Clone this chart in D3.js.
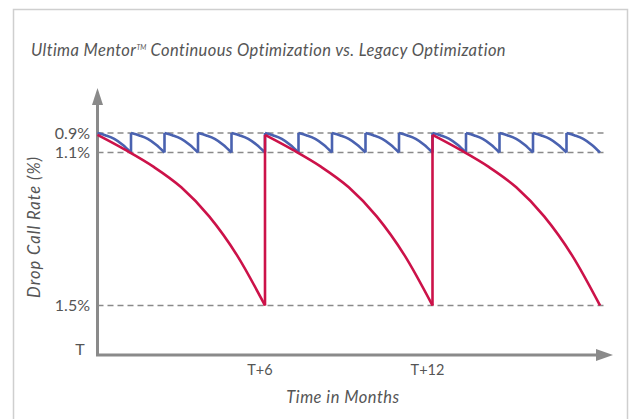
<!DOCTYPE html>
<html>
<head>
<meta charset="utf-8">
<script src="https://cdn.jsdelivr.net/npm/d3@7"></script>
<style>
  body { margin: 0; background: #fff; }
  svg text { font-family: Lato, 'Noto Sans', sans-serif; fill: #555; }
</style>
</head>
<body>
<svg id="chart" width="632" height="419"></svg>
<script>
const titleMain = 'Ultima Mentor';
const titleMark = 'TM';
const titleRest = ' Continuous Optimization vs. Legacy Optimization';
const yLevels = [0.9, 1.1, 1.5];
const yLevelLabels = ['0.9%', '1.1%', '1.5%'];
const xTickMonths = [6, 12];
const xTickLabels = ['T+6', 'T+12'];

// legacy optimization: one pass every 6 months, then the rate drifts down
const legacyResets = [0, 6, 12];
const legacyOffsets = [0, 1, 2, 3, 4, 5, 6];
const legacyValues = [0.92, 1.074, 1.137, 1.191, 1.267, 1.369, 1.5];

// continuous optimization: small correction every 1.2 months
const mentorResets = [0, 1.2, 2.4, 3.6, 4.8, 6, 7.2, 8.4, 9.6, 10.8, 12, 13.2, 14.4, 15.6, 16.8];
const mentorOffsets = [0, 0.3, 0.6, 0.9, 1.2];
const mentorValues = [0.9, 0.925, 0.96, 1.02, 1.1];

const svg = d3.select('#chart');
const x = d3.scaleLinear().domain([0, 18]).range([97.5, 600]);
const y = d3.scaleLinear().domain(yLevels).range([133, 152.5, 305.5]);
const axisY = 355;
const grey = '#8a8a8a';

svg.append('rect').attr('x', 13.5).attr('y', 9.5).attr('width', 614).attr('height', 430)
  .attr('fill', 'none').attr('stroke', '#cfcfcf').attr('stroke-width', 1.5);

const title = svg.append('text').attr('x', 31).attr('y', 56).attr('font-size', 16.5)
  .attr('font-style', 'italic').attr('letter-spacing', 0.4);
title.append('tspan').text(titleMain);
title.append('tspan').attr('font-size', 7).attr('dy', -6).attr('letter-spacing', 0).text(titleMark);
title.append('tspan').attr('dy', 6).text(titleRest);

// dashed reference levels
svg.selectAll('line.level').data(yLevels).join('line').attr('class', 'level')
  .attr('x1', x(0)).attr('x2', 606).attr('y1', (d) => y(d)).attr('y2', (d) => y(d))
  .attr('stroke', grey).attr('stroke-width', 1.5).attr('stroke-dasharray', '6,4');

svg.selectAll('text.level').data(yLevels).join('text').attr('class', 'level')
  .attr('x', 90).attr('y', (d) => y(d)).attr('dy', '0.35em').attr('text-anchor', 'end')
  .attr('font-size', 16).text((d, i) => yLevelLabels[i]);

svg.append('text').attr('x', 80).attr('y', 349).attr('dy', '0.35em').attr('text-anchor', 'middle')
  .attr('font-size', 16).text('T');

// axes with arrow heads
svg.append('path').attr('fill', 'none').attr('stroke', grey).attr('stroke-width', 3)
  .attr('d', `M${x(0)},100V${axisY}H598`);
svg.append('path').attr('fill', grey).attr('d', `M${x(0)},88l-5.5,17h11z`);
svg.append('path').attr('fill', grey).attr('d', `M613,${axisY}l-17,-6v12z`);

svg.selectAll('text.xtick').data(xTickMonths).join('text').attr('class', 'xtick')
  .attr('x', (d) => x(d) - 5).attr('y', 370).attr('dy', '0.35em').attr('text-anchor', 'middle')
  .attr('font-size', 14.5).text((d, i) => xTickLabels[i]);

svg.append('text').attr('x', 343).attr('y', 397).attr('dy', '0.35em').attr('text-anchor', 'middle')
  .attr('font-size', 16.5).attr('font-style', 'italic').attr('letter-spacing', 0.5)
  .text('Time in Months');

svg.append('text').attr('transform', 'translate(34,227) rotate(-90)').attr('dy', '0.35em')
  .attr('text-anchor', 'middle').attr('font-size', 16.5).attr('font-style', 'italic')
  .attr('letter-spacing', 1).text('Drop Call Rate (%)');

const line = d3.line().x((d) => x(d[0])).y((d) => y(d[1])).curve(d3.curveMonotoneX);

function cycles(resets, offsets, values) {
  return resets.map((start) => offsets.map((o, i) => [start + o, values[i]]));
}

const mentor = cycles(mentorResets, mentorOffsets, mentorValues);
const legacy = cycles(legacyResets, legacyOffsets, legacyValues);

function drawSeries(parts, color) {
  const g = svg.append('g').attr('fill', 'none').attr('stroke', color).attr('stroke-width', 2.6)
    .attr('stroke-linejoin', 'round');
  g.selectAll('path.seg').data(parts).join('path').attr('class', 'seg').attr('d', line);
  // vertical resets between consecutive cycles
  g.selectAll('line.jump').data(parts.slice(1)).join('line').attr('class', 'jump')
    .attr('x1', (d) => x(d[0][0])).attr('x2', (d) => x(d[0][0]))
    .attr('y1', (d, i) => y(parts[i][parts[i].length - 1][1])).attr('y2', (d) => y(d[0][1]));
}

drawSeries(mentor, '#4a62b0');
drawSeries(legacy, '#cc1249');
</script>
</body>
</html>
